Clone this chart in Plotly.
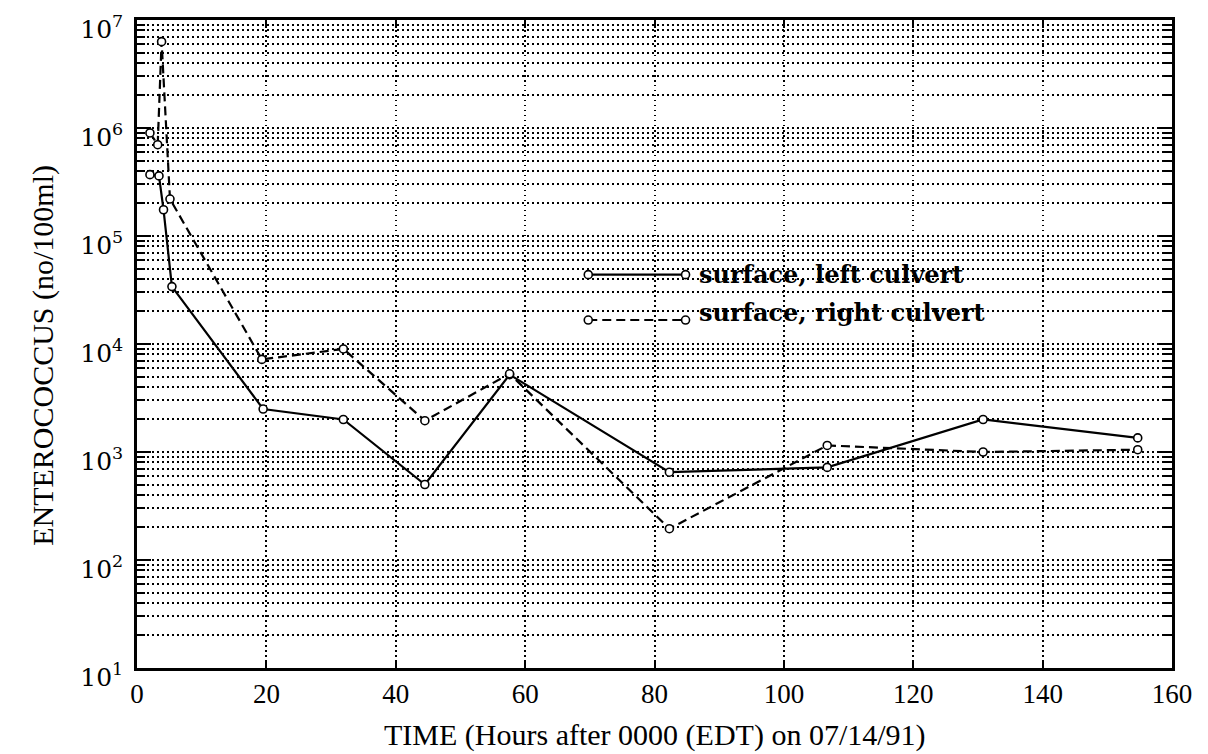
import plotly.graph_objects as go

# ---- data ----
left_x = [2.0, 3.4, 4.1, 5.4, 19.5, 31.9, 44.5, 57.6, 82.3, 106.7, 130.8, 154.7]
left_y = [3.7e5, 3.6e5, 1.75e5, 3.4e4, 2.5e3, 2.0e3, 500, 5.2e3, 650, 720, 2.0e3, 1.35e3]

right_x = [2.0, 3.2, 3.8, 5.1, 19.3, 31.9, 44.5, 57.6, 82.3, 106.7, 130.8, 154.7]
right_y = [9.0e5, 7.0e5, 6.3e6, 2.2e5, 7.2e3, 9.0e3, 1.95e3, 5.3e3, 195, 1.15e3, 1.0e3, 1.05e3]

series_names = ["surface, left culvert", "surface, right culvert"]

x_ticks = [0, 20, 40, 60, 80, 100, 120, 140, 160]
y_exps = [1, 2, 3, 4, 5, 6, 7]

x_title = "TIME (Hours after 0000 (EDT) on 07/14/91)"
y_title = "ENTEROCOCCUS (no/100ml)"

SERIF = "Liberation Serif"
WIDE = "DejaVu Serif"

fig = go.Figure()

marker = dict(symbol="circle", size=8, color="white",
              line=dict(color="black", width=1.6))

fig.add_trace(go.Scatter(x=left_x, y=left_y, mode="lines+markers",
                         name=series_names[0],
                         line=dict(color="black", width=2.2),
                         marker=marker, showlegend=False))
fig.add_trace(go.Scatter(x=right_x, y=right_y, mode="lines+markers",
                         name=series_names[1],
                         line=dict(color="black", width=2.2, dash="9px,5px"),
                         marker=marker, showlegend=False))

# ---- legend drawn inside the plot (long sample lines with end markers) ----
shapes = []
annos = []
leg_x0, leg_x1 = 0.436, 0.530
leg_rows = [(0.607, "solid"), (0.537, "9px,5px")]
text_dy = [0.0, 0.012]
for i, (yy, dash) in enumerate(leg_rows):
    shapes.append(dict(type="line", xref="paper", yref="paper",
                       x0=leg_x0, x1=leg_x1, y0=yy, y1=yy,
                       line=dict(color="black", width=2.2, dash=dash)))
    for xx in (leg_x0, leg_x1):
        shapes.append(dict(type="circle", xref="paper", yref="paper",
                           xsizemode="pixel", ysizemode="pixel",
                           xanchor=xx, yanchor=yy,
                           x0=-4, x1=4, y0=-4, y1=4,
                           fillcolor="white",
                           line=dict(color="black", width=1.6)))
    annos.append(dict(xref="paper", yref="paper", x=0.541, y=yy + text_dy[i],
                      text=series_names[i], showarrow=False,
                      xanchor="left", yanchor="middle",
                      font=dict(family=WIDE, size=24, color="black",
                                weight="bold")))

# axis titles placed as annotations
annos.append(dict(xref="paper", yref="paper", x=0.5, y=-0.103,
                  text=x_title, showarrow=False,
                  xanchor="center", yanchor="middle",
                  font=dict(family=SERIF, size=30, color="black")))
annos.append(dict(xref="paper", yref="paper", x=-0.091, y=0.483,
                  text=y_title, showarrow=False, textangle=-90,
                  xanchor="center", yanchor="middle",
                  font=dict(family=SERIF, size=30, color="black")))

minor_vals = [k * 10 ** e for e in y_exps[:-1] for k in range(2, 10)]

# the page body adds an 8px offset, so the figure is 8px smaller
fig.update_layout(
    width=1200, height=746,
    margin=dict(l=129, r=36, t=12, b=86),
    paper_bgcolor="white", plot_bgcolor="white",
    shapes=shapes, annotations=annos,
    xaxis=dict(
        range=[0, 160], tickmode="array", tickvals=x_ticks,
        ticktext=[str(v) for v in x_ticks], automargin=False,
        showline=True, linecolor="black", linewidth=2.5, mirror="ticks",
        ticks="inside", ticklen=8, tickcolor="black", tickwidth=1.5,
        showgrid=True, gridcolor="black", gridwidth=1.5, griddash="1.5px,3.5px",
        zeroline=False, ticklabeloverflow="allow",
        tickfont=dict(family=SERIF, size=27, color="black"),
    ),
    yaxis=dict(
        type="log", range=[1, 7], tickmode="array",
        tickvals=[10 ** e for e in y_exps],
        ticktext=[f"10<sup>{e}</sup>" for e in y_exps], automargin=False,
        showline=True, linecolor="black", linewidth=2.5, mirror="ticks",
        ticks="inside", ticklen=14, tickcolor="black", tickwidth=2,
        ticklabelstandoff=6, ticklabeloverflow="allow",
        ticklabelshift=9,
        showgrid=True, gridcolor="black", gridwidth=1.5, griddash="1.5px,3.5px",
        zeroline=False,
        tickfont=dict(family=WIDE, size=25, color="black"),
        minor=dict(tickmode="array", tickvals=minor_vals,
                   ticks="inside", ticklen=8, tickcolor="black", tickwidth=1.5,
                   showgrid=True, gridcolor="black", gridwidth=1.5,
                   griddash="1.5px,3.5px"),
    ),
)

fig.write_html("out.html")
